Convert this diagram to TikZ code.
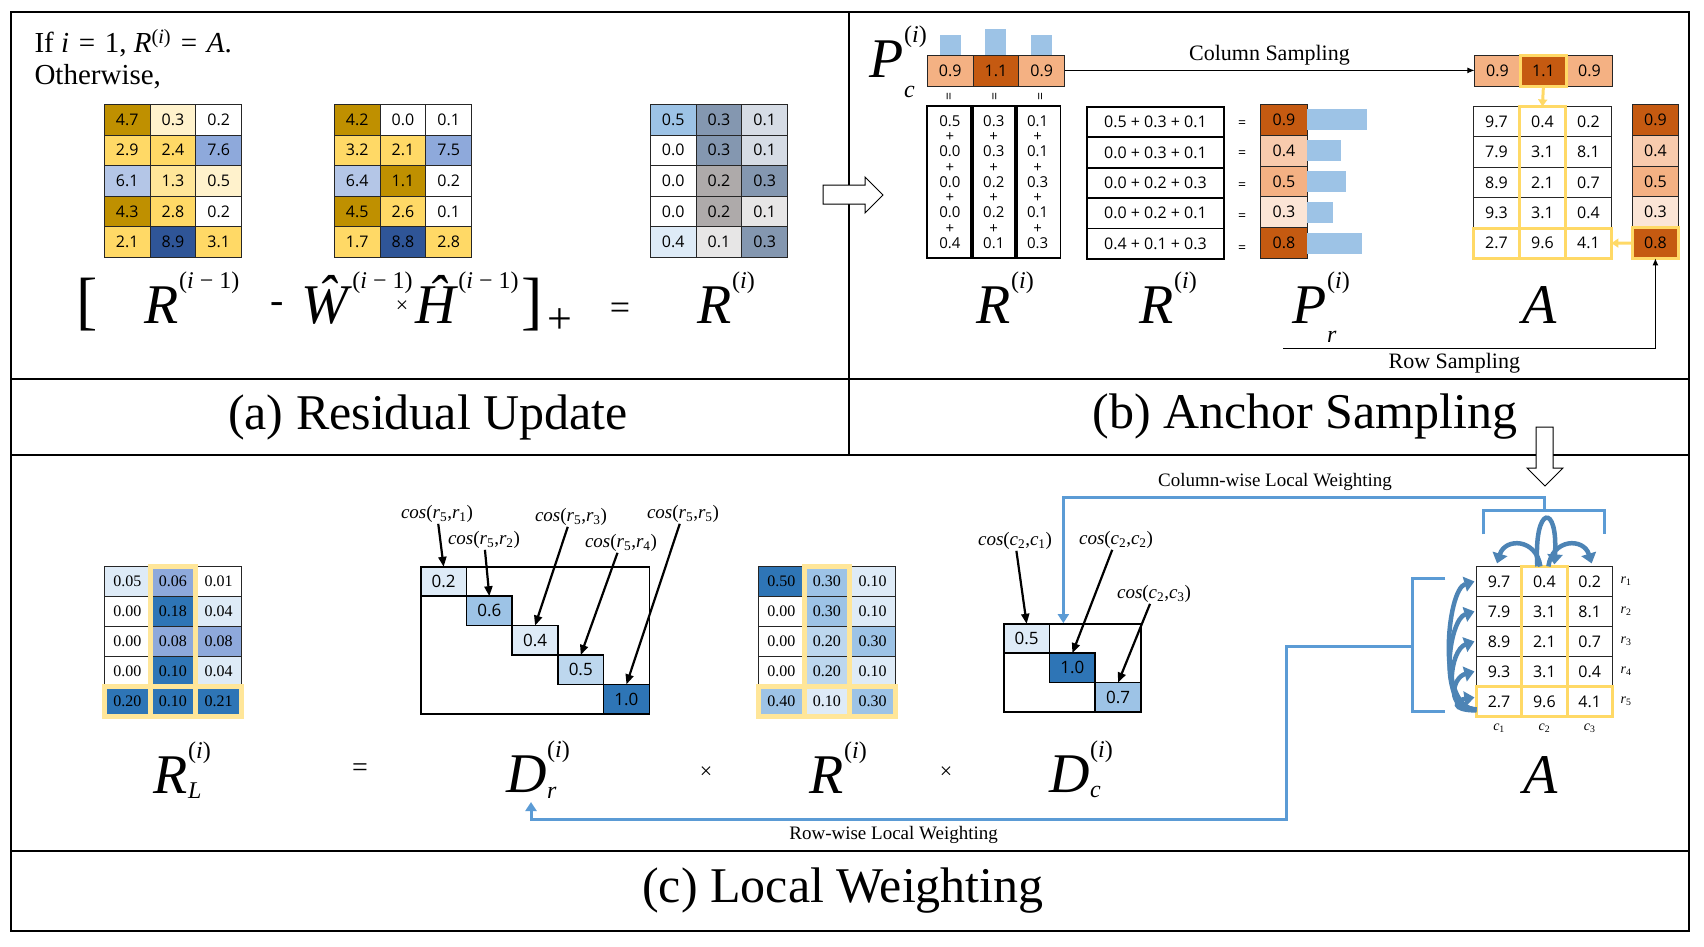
\documentclass[tikz,border=0pt]{standalone}
\usepackage{fontspec}
\setmainfont{Liberation Serif}
\newfontfamily\numsans{Open Sans}
\usetikzlibrary{%
  arrows.meta,
  positioning,
  fit,
  calc,
  matrix}

\definecolor{goldD}{HTML}{BF9000}
\definecolor{gold}{HTML}{FFD966}
\definecolor{goldL}{HTML}{FFE699}
\definecolor{cream}{HTML}{FFF2CC}
\definecolor{blueM}{HTML}{8EA9DB}
\definecolor{blueL}{HTML}{B4C6E7}
\definecolor{blueD}{HTML}{2F5597}
\definecolor{slate}{HTML}{8497B0}
\definecolor{slateL}{HTML}{D6DCE5}
\definecolor{greyM}{HTML}{AEAAAA}
\definecolor{greyL}{HTML}{E7E6E6}
\definecolor{sky}{HTML}{9DC3E6}
\definecolor{skyL}{HTML}{BDD7EE}
\definecolor{pale}{HTML}{DEEBF7}
\definecolor{steel}{HTML}{2E75B6}
\definecolor{rust}{HTML}{C55A11}
\definecolor{peach}{HTML}{F4B183}
\definecolor{peachL}{HTML}{F8CBAD}
\definecolor{peachP}{HTML}{FBE5D6}
\definecolor{hlY}{HTML}{FFD966}
\definecolor{hlL}{HTML}{FFE699}
\definecolor{wblue}{HTML}{5B9BD5}

\newcommand{\numfont}{\numsans\fontsize{16}{18}\selectfont}
\newcommand{\sernum}{\fontsize{16}{18}\selectfont}
\newcommand{\supfont}{\fontsize{24}{26}\selectfont}
%% big italic symbol with superscript and subscript
\newcommand{\bigsym}[4][6pt]{\textit{#2}\rlap{\raisebox{35pt}{\supfont #3}}\rlap{\raisebox{-#1}{\supfont\textit{#4}}}}
\newcommand{\cosof}[3]{\textit{cos}(\textit{#1}\textsubscript{#2},\textit{#1}\textsubscript{#3})}

\tikzset{
  %% Panel frame
  frame/.style={draw=black, line width=1.5pt},
  blockarr/.style={draw=black, fill=white, line width=1pt},
  %% Matrix cells
  cell/.style={
    rectangle, draw=black!85, line width=0.8pt,
    inner sep=0pt, outer sep=0pt, anchor=center,
    minimum width=45.7pt, minimum height=30.6pt, font=\numfont},
  scell/.style={cell, font=\sernum},
  dcell/.style={cell, draw=black, line width=1.6pt,
    minimum width=45.7pt, minimum height=29.4pt,
    font=\numsans\fontsize{17}{19}\selectfont},
  amat/.style={
    matrix of nodes, inner sep=0pt, outer sep=0pt,
    matrix anchor=north west,
    column sep=-0.8pt, row sep=-0.8pt, nodes={cell}},
  dframe/.style={draw=black, line width=1.4pt, inner sep=0pt},
  %% Column / row sum boxes
  colbox/.style={
    rectangle, draw=black, line width=1.8pt,
    inner sep=0pt, outer sep=0pt, align=center,
    minimum width=45.7pt, minimum height=152pt,
    font=\numsans\fontsize{15}{15.25}\selectfont},
  rowbox/.style={
    rectangle, draw=black, line width=1.8pt,
    inner sep=0pt, outer sep=0pt,
    minimum width=137pt, minimum height=30.4pt, font=\numfont},
  eqs/.style={inner sep=0pt, font=\numsans\fontsize{14}{14}\selectfont},
  eqv/.style={inner sep=0pt, rotate=90, font=\numsans\fontsize{14}{14}\selectfont},
  %% Labels
  biglbl/.style={anchor=base, inner sep=0pt, font=\fontsize{56}{60}\selectfont},
  bigbr/.style={anchor=base, inner sep=0pt, font=\fontsize{64}{66}\selectfont},
  opsym/.style={inner sep=0pt, font=\fontsize{36}{38}\selectfont},
  caption/.style={font=\fontsize{50}{54}\selectfont},
  stxt/.style={font=\fontsize{22}{24}\selectfont},
  wtxt/.style={font=\fontsize{19}{21}\selectfont},
  coslbl/.style={inner sep=1pt, font=\fontsize{19}{21}\selectfont},
  idx/.style={inner sep=0pt, font=\fontsize{14}{16}\selectfont},
  %% Arrows and highlights
  cosarr/.style={-{Triangle[width=8pt,length=10pt]}, line width=2.2pt},
  sarrow/.style={-{Latex[length=7pt,width=6pt]}, line width=1pt},
  hlarrow/.style={-{Triangle[width=9pt,length=7pt]}, draw=hlY, line width=3pt},
  hlbox/.style={draw=hlY, line width=3pt},
  hlboxL/.style={draw=hlL, line width=5pt},
  wline/.style={draw=wblue, line width=3pt, -{Triangle[width=11pt,length=9pt]}},
  wbrack/.style={draw=wblue, line width=3pt},
  carr/.style={draw=wblue!85!black, line width=4.5pt, -{Triangle[width=15pt,length=10pt]}},
}

\begin{document}
\begin{tikzpicture}[x=1pt, y=-1pt]
  \useasboundingbox (0,0) rectangle (1704,946);

  %% Panel frames
  \draw[frame] (11,12) rectangle (1689,931);
  \draw[frame] (11,379) -- (1689,379);
  \draw[frame] (11,455) -- (1689,455);
  \draw[frame] (11,851) -- (1689,851);
  \draw[frame] (849,12) -- (849,455);

  %% Captions
  \node[caption] (capa) at (428,417) {(a) Residual Update};
  \node[caption] (capb) at (1305,417) {(b) Anchor Sampling};
  \node[caption] (capc) at (843,891) {(c) Local Weighting};

  %% ---------------- (a) Residual Update ----------------
  \node[anchor=west, font=\fontsize{29}{32}\selectfont] (cond) at (31,43)
    {If \textit{i}\,\,=\,\,1, \textit{R}\textsuperscript{(\textit{i})}\,\,=\,\,\textit{A}.};
  \node[anchor=west, font=\fontsize{29}{32}\selectfont] (othw) at (31,77) {Otherwise,};

  \matrix[amat] (ma1) at (104,104) {
    |[fill=goldD]| 4.7 & |[fill=cream]| 0.3 & 0.2 \\
    |[fill=gold]| 2.9  & |[fill=gold]| 2.4  & |[fill=blueM]| 7.6 \\
    |[fill=blueL]| 6.1 & |[fill=goldL]| 1.3 & |[fill=cream]| 0.5 \\
    |[fill=goldD]| 4.3 & |[fill=gold]| 2.8  & 0.2 \\
    |[fill=gold]| 2.1  & |[fill=blueD]| 8.9 & |[fill=gold]| 3.1 \\
  };
  \matrix[amat] (ma2) at (334,104) {
    |[fill=goldD]| 4.2 & 0.0 & 0.1 \\
    |[fill=gold]| 3.2  & |[fill=gold]| 2.1  & |[fill=blueM]| 7.5 \\
    |[fill=blueL]| 6.4 & |[fill=goldD]| 1.1 & 0.2 \\
    |[fill=goldD]| 4.5 & |[fill=gold]| 2.6  & 0.1 \\
    |[fill=gold]| 1.7  & |[fill=blueD]| 8.8 & |[fill=gold]| 2.8 \\
  };
  \matrix[amat] (ma3) at (650,104) {
    |[fill=sky]| 0.5  & |[fill=slate]| 0.3 & |[fill=slateL]| 0.1 \\
    0.0               & |[fill=slate]| 0.3 & |[fill=slateL]| 0.1 \\
    0.0               & |[fill=greyM]| 0.2 & |[fill=slate]| 0.3 \\
    0.0               & |[fill=greyM]| 0.2 & |[fill=greyL]| 0.1 \\
    |[fill=pale]| 0.4 & |[fill=greyL]| 0.1 & |[fill=slate]| 0.3 \\
  };

  %% Update equation
  \node[bigbr]  (brL) at (87,322)  {[};
  \node[biglbl] (lRp) at (162,323) {\bigsym{R}{(\textit{i} − 1)}{}};
  \node[opsym, font=\fontsize{40}{40}\selectfont] (mns) at (277,308) {-};
  \node[biglbl] (lW)  at (327,323) {\bigsym{Ŵ}{(\textit{i} − 1)}{}};
  \node[opsym, font=\fontsize{22}{22}\selectfont] (tms) at (402,307) {×};
  \node[biglbl] (lH)  at (437,323) {\bigsym{Ĥ}{(\textit{i} − 1)}{}};
  \node[bigbr]  (brR) at (532,322) {]};
  \node[opsym, font=\fontsize{44}{44}\selectfont] (pls) at (560,321) {+};
  \node[opsym]  (eqa) at (620,311) {=};
  \node[biglbl] (lR)  at (715,323) {\bigsym{R}{(\textit{i})}{}};

  %% ---------------- (b) Anchor Sampling ----------------
  \node[biglbl] (lPc) at (887,77) {\bigsym[20pt]{P}{(\textit{i})}{c}};
  \matrix[amat, nodes={minimum height=31pt}] (pc) at (927,54.5) {
    |[fill=peach]| 0.9 & |[fill=rust]| 1.1 & |[fill=peach]| 0.9 \\
  };
  \fill[sky] ([xshift=-10.5pt]pc-1-1.north) rectangle ++(21,-20);
  \fill[sky] ([xshift=-10.5pt]pc-1-2.north) rectangle ++(21,-26);
  \fill[sky] ([xshift=-10.5pt]pc-1-3.north) rectangle ++(21,-20);
  \node[eqv] (v1) at ([yshift=-11pt]pc-1-1.south) {=};
  \node[eqv] (v2) at ([yshift=-11pt]pc-1-2.south) {=};
  \node[eqv] (v3) at ([yshift=-11pt]pc-1-3.south) {=};

  %% column sums
  \node[colbox, anchor=north west] (cs1) at (927,106) {0.5\\+\\0.0\\+\\0.0\\+\\0.0\\+\\0.4};
  \node[colbox, right=-1.8pt of cs1] (cs2) {0.3\\+\\0.3\\+\\0.2\\+\\0.2\\+\\0.1};
  \node[colbox, right=-1.8pt of cs2] (cs3) {0.1\\+\\0.1\\+\\0.3\\+\\0.1\\+\\0.3};

  %% row sums
  \matrix[amat, row sep=-1.8pt, nodes={rowbox}] (rs) at (1086,106) {
    0.5 + 0.3 + 0.1 \\
    0.0 + 0.3 + 0.1 \\
    0.0 + 0.2 + 0.3 \\
    0.0 + 0.2 + 0.1 \\
    0.4 + 0.1 + 0.3 \\
  };
  \node[eqs, right=14pt of rs-1-1, yshift=-2pt] (e1) {=};
  \node[eqs, right=14pt of rs-2-1, yshift=-2pt] (e2) {=};
  \node[eqs, right=14pt of rs-3-1, yshift=-3pt] (e3) {=};
  \node[eqs, right=14pt of rs-4-1, yshift=-4pt] (e4) {=};
  \node[eqs, right=14pt of rs-5-1, yshift=-5pt] (e5) {=};

  \matrix[amat, nodes={minimum width=47pt, minimum height=30.8pt}] (pr) at (1260,104) {
    |[fill=rust]| 0.9 \\ |[fill=peachL]| 0.4 \\ |[fill=peach]| 0.5 \\
    |[fill=peachP]| 0.3 \\ |[fill=rust]| 0.8 \\
  };
  \fill[sky] (pr-1-1.east) ++(0,-10.5) rectangle ++(60,21);
  \fill[sky] (pr-2-1.east) ++(0,-10.5) rectangle ++(34,21);
  \fill[sky] (pr-3-1.east) ++(0,-10.5) rectangle ++(39,21);
  \fill[sky] (pr-4-1.east) ++(0,-10.5) rectangle ++(26,21);
  \fill[sky] (pr-5-1.east) ++(0,-10.5) rectangle ++(55,21);

  %% sampled anchor
  \matrix[amat, nodes={minimum width=46pt, minimum height=31pt}] (pcA) at (1474,55) {
    |[fill=peach]| 0.9 & |[fill=rust]| 1.1 & |[fill=peach]| 0.9 \\
  };
  \matrix[amat, nodes={minimum width=46pt, minimum height=30.4pt}] (A) at (1473,106) {
    9.7 & 0.4 & 0.2 \\
    7.9 & 3.1 & 8.1 \\
    8.9 & 2.1 & 0.7 \\
    9.3 & 3.1 & 0.4 \\
    2.7 & 9.6 & 4.1 \\
  };
  \matrix[amat, nodes={minimum width=46pt, minimum height=30.8pt}] (prA) at (1632,104) {
    |[fill=rust]| 0.9 \\ |[fill=peachL]| 0.4 \\ |[fill=peach]| 0.5 \\
    |[fill=peachP]| 0.3 \\ |[fill=rust]| 0.8 \\
  };
  \draw[hlbox] (pcA-1-2.north west) rectangle (pcA-1-2.south east);
  \draw[hlbox] (prA-5-1.north west) rectangle (prA-5-1.south east);
  \draw[hlbox] (A-1-2.north west) rectangle (A-5-2.south east);
  \draw[hlbox] (A-5-1.north west) rectangle (A-5-3.south east);
  \draw[hlarrow] (pcA-1-2.south) -- (A-1-2.north);
  \draw[hlarrow] (prA-5-1.west) -- (A-5-3.east);

  \draw[sarrow] (pc-1-3.east) -- (pc-1-3.east -| pcA-1-1.west)
    node[stxt, midway, above=1pt] {Column Sampling};
  \coordinate (rsamp) at (1283,348);
  \draw[sarrow] (rsamp) -| (prA-5-1.south)
    node[stxt, pos=0.23, below=1pt] {Row Sampling};

  \node[biglbl] (lRc) at (994,323)  {\bigsym{R}{(\textit{i})}{}};
  \node[biglbl] (lRr) at (1157,323) {\bigsym{R}{(\textit{i})}{}};
  \node[biglbl] (lPr) at (1310,323) {\bigsym[19pt]{P}{(\textit{i})}{r}};
  \node[biglbl] (lA)  at (1540,323) {\textit{A}};

  %% Block arrows between panels
  \draw[blockarr] (823,185) -- (865,185) -- (865,177) -- (883,195)
    -- (865,213) -- (865,204) -- (823,204) -- cycle;
  \draw[blockarr] (1536,427) -- (1553,427) -- (1553,468) -- (1563,468)
    -- (1545,486) -- (1527,468) -- (1536,468) -- cycle;

  %% ---------------- (c) Local Weighting ----------------
  \matrix[amat, nodes={scell, minimum height=30pt}] (rl) at (104,566) {
    |[fill=pale]| 0.05  & |[fill=blueM]| 0.06 & 0.01 \\
    0.00                & |[fill=steel]| 0.18 & |[fill=pale]| 0.04 \\
    0.00                & |[fill=blueM]| 0.08 & |[fill=blueM]| 0.08 \\
    0.00                & |[fill=steel]| 0.10 & |[fill=pale]| 0.04 \\
    |[fill=steel]| 0.20 & |[fill=steel]| 0.10 & |[fill=steel]| 0.21 \\
  };
  \draw[hlboxL] (rl-1-2.north west) rectangle (rl-5-2.south east);
  \draw[hlboxL] (rl-5-1.north west) rectangle (rl-5-3.south east);

  %% row weights
  \matrix[amat, column sep=-1.6pt, row sep=-1.6pt, nodes={dcell}] (dr) at (420,566) {
    |[fill=pale]| 0.2 & & & & \\
    & |[fill=sky]| 0.6 & & & \\
    & & |[fill=pale]| 0.4 & & \\
    & & & |[fill=skyL]| 0.5 & \\
    & & & & |[fill=steel]| 1.0 \\
  };
  \node[dframe, fit=(dr-1-1)(dr-5-5)] (drf) {};
  \node[coslbl] (cr1) at (437,514) {\cosof{r}{5}{1}};
  \node[coslbl] (cr2) at (484,540) {\cosof{r}{5}{2}};
  \node[coslbl] (cr3) at (571,517) {\cosof{r}{5}{3}};
  \node[coslbl] (cr4) at (621,543) {\cosof{r}{5}{4}};
  \node[coslbl] (cr5) at (683,514) {\cosof{r}{5}{5}};
  \draw[cosarr] (cr1) -- (dr-1-1.north);
  \draw[cosarr] (cr2) -- (dr-2-2.north);
  \draw[cosarr] (cr3) -- (dr-3-3.north);
  \draw[cosarr] (cr4) -- (dr-4-4.north);
  \draw[cosarr] (cr5) -- (dr-5-5.north);

  \matrix[amat, nodes={scell, minimum height=30pt}] (rc) at (758,566) {
    |[fill=steel]| 0.50 & |[fill=sky]| 0.30  & |[fill=pale]| 0.10 \\
    0.00                & |[fill=sky]| 0.30  & |[fill=pale]| 0.10 \\
    0.00                & |[fill=skyL]| 0.20 & |[fill=sky]| 0.30 \\
    0.00                & |[fill=skyL]| 0.20 & |[fill=pale]| 0.10 \\
    |[fill=sky]| 0.40   & |[fill=pale]| 0.10 & |[fill=sky]| 0.30 \\
  };
  \draw[hlboxL] (rc-1-2.north west) rectangle (rc-5-2.south east);
  \draw[hlboxL] (rc-5-1.north west) rectangle (rc-5-3.south east);

  %% column weights
  \matrix[amat, column sep=-1.6pt, row sep=-1.6pt, nodes={dcell}] (dc) at (1003,623) {
    |[fill=pale]| 0.5 & & \\
    & |[fill=steel]| 1.0 & \\
    & & |[fill=sky]| 0.7 \\
  };
  \node[dframe, fit=(dc-1-1)(dc-3-3)] (dcf) {};
  \node[coslbl] (cc1) at (1015,541) {\cosof{c}{2}{1}};
  \node[coslbl] (cc2) at (1116,540) {\cosof{c}{2}{2}};
  \node[coslbl] (cc3) at (1154,594) {\cosof{c}{2}{3}};
  \draw[cosarr] (cc1) -- (dc-1-1.north);
  \draw[cosarr] (cc2) -- (dc-2-2.north);
  \draw[cosarr] (cc3) -- (dc-3-3.north);

  %% anchor matrix
  \matrix[amat, nodes={minimum width=45.3pt, minimum height=30pt}] (Ac) at (1476,566) {
    9.7 & 0.4 & 0.2 \\
    7.9 & 3.1 & 8.1 \\
    8.9 & 2.1 & 0.7 \\
    9.3 & 3.1 & 0.4 \\
    2.7 & 9.6 & 4.1 \\
  };
  \draw[hlbox] (Ac-1-2.north west) rectangle (Ac-5-2.south east);
  \draw[hlbox] (Ac-5-1.north west) rectangle (Ac-5-3.south east);
  \node[idx, right=8pt of Ac-1-3] (r1) {\textit{r}\textsubscript{1}};
  \node[idx, right=8pt of Ac-2-3] (r2) {\textit{r}\textsubscript{2}};
  \node[idx, right=8pt of Ac-3-3] (r3) {\textit{r}\textsubscript{3}};
  \node[idx, right=8pt of Ac-4-3] (r4) {\textit{r}\textsubscript{4}};
  \node[idx, right=8pt of Ac-5-3] (r5) {\textit{r}\textsubscript{5}};
  \node[idx, below=7pt of Ac-5-1] (c1) {\textit{c}\textsubscript{1}};
  \node[idx, below=7pt of Ac-5-2] (c2) {\textit{c}\textsubscript{2}};
  \node[idx, below=7pt of Ac-5-3] (c3) {\textit{c}\textsubscript{3}};

  %% column-wise curved arrows
  \draw[carr] ([xshift=-4pt]Ac-1-2.north) .. controls +(-4,-28) and +(8,-26) .. ([xshift=-2pt,yshift=3pt]Ac-1-1.north);
  \draw[carr] ([xshift=4pt]Ac-1-2.north) .. controls +(4,-28) and +(-8,-26) .. ([xshift=2pt,yshift=3pt]Ac-1-3.north);
  \draw[carr] ([xshift=-7pt]Ac-1-2.north) .. controls +(-4,-62) and +(4,-62) .. ([xshift=10pt,yshift=2pt]Ac-1-2.north);
  %% row-wise curved arrows
  \draw[carr] ([yshift=-8pt]Ac-5-1.west) .. controls +(-40,0) and +(-28,8) .. ([xshift=-2pt]Ac-1-1.west);
  \draw[carr] ([yshift=-8pt]Ac-5-1.west) .. controls +(-40,0) and +(-26,8) .. ([xshift=-2pt]Ac-2-1.west);
  \draw[carr] ([yshift=-8pt]Ac-5-1.west) .. controls +(-36,0) and +(-24,8) .. ([xshift=-2pt]Ac-3-1.west);
  \draw[carr] ([yshift=-8pt]Ac-5-1.west) .. controls +(-32,0) and +(-22,6) .. ([xshift=-2pt]Ac-4-1.west);
  \draw[carr] ([yshift=-9pt]Ac-5-1.west) .. controls +(-26,0) and +(-20,3) .. ([xshift=-2pt,yshift=4pt]Ac-5-1.west);

  %% brackets and weighting lines
  \coordinate (cbr) at ([yshift=56pt]Ac-1-2.north);
  \draw[wbrack] ([xshift=-61pt,yshift=-24pt]cbr) -- ([xshift=-61pt]cbr)
    -- ([xshift=60pt]cbr) -- ([xshift=60pt,yshift=-24pt]cbr);
  \draw[wline] (cbr) -- ++(0,-13) -| ([xshift=-9pt]dcf.north)
    node[wtxt, pos=0.28, above=2pt] {Column-wise Local Weighting};

  \coordinate (rbr) at ([xshift=-64pt,yshift=-5pt]Ac-3-1.west);
  \draw[wbrack] ([xshift=33pt,yshift=68pt]rbr) -- ([yshift=68pt]rbr)
    -- ([yshift=-65pt]rbr) -- ([xshift=33pt,yshift=-65pt]rbr);
  \coordinate (rwin) at (531,802);
  \draw[wline] (rbr) -| ++(-126,173) -| (rwin)
    node[wtxt, pos=0.26, below=2pt] {Row-wise Local Weighting};

  %% labels of (c)
  \node[biglbl] (lRL) at (171,793)  {\bigsym[5pt]{R}{(\textit{i})}{L}};
  \node[opsym, font=\fontsize{28}{28}\selectfont] (eqc) at (360,770) {=};
  \node[biglbl] (lDr) at (527,792)  {\bigsym{D}{(\textit{i})}{r}};
  \node[opsym, font=\fontsize{22}{22}\selectfont] (tm1) at (706,773) {×};
  \node[biglbl] (lRc2) at (827,793) {\bigsym{R}{(\textit{i})}{}};
  \node[opsym, font=\fontsize{22}{22}\selectfont] (tm2) at (946,773) {×};
  \node[biglbl] (lDc) at (1070,792) {\bigsym[5pt]{D}{(\textit{i})}{c}};
  \node[biglbl] (lAc) at (1541,793) {\textit{A}};

\end{tikzpicture}
\end{document}
